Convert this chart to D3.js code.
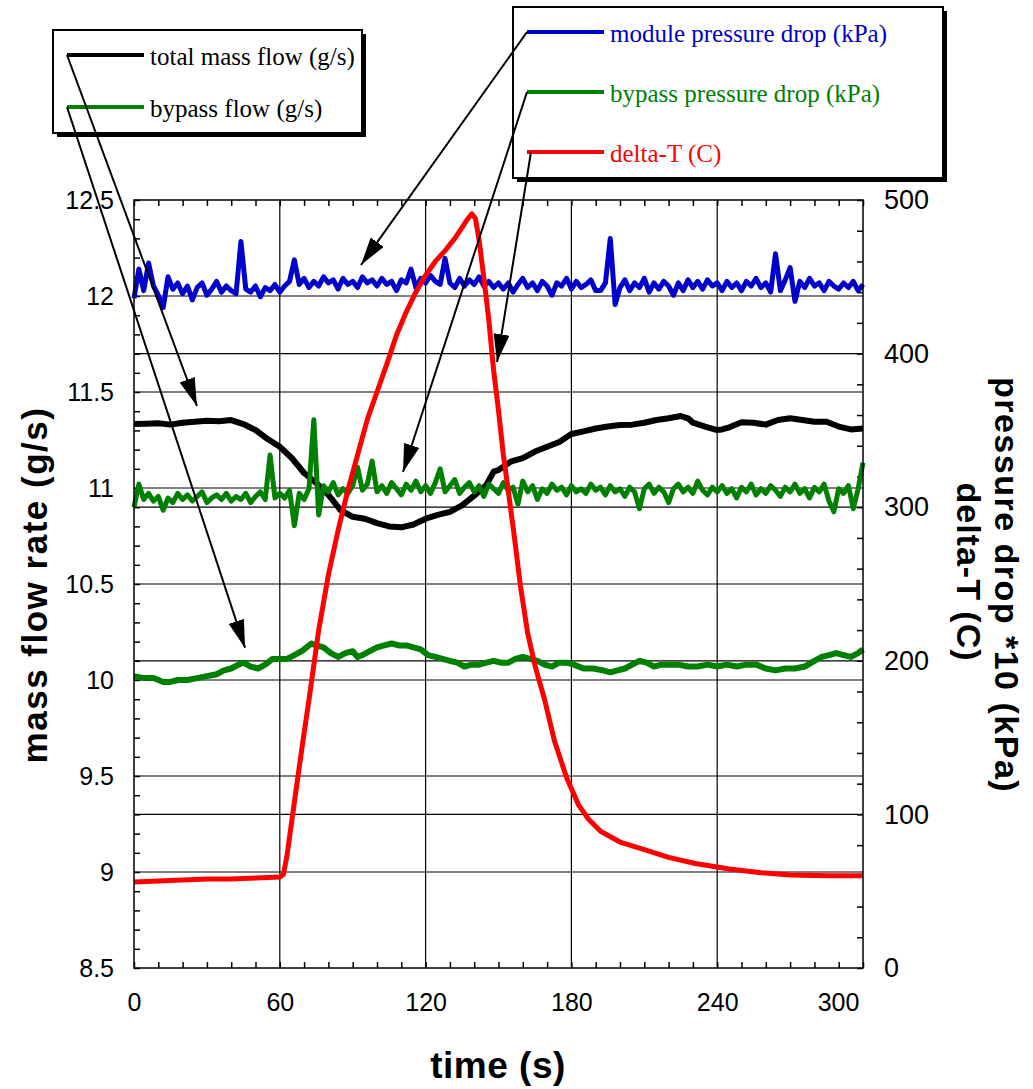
<!DOCTYPE html>
<html>
<head>
<meta charset="utf-8">
<script src="https://cdn.jsdelivr.net/npm/d3@7"></script>
<style>
  body { margin: 0; background: #fff; }
</style>
</head>
<body>
<svg id="chart" width="1033" height="1089"></svg>
<script>
// ---- data ----
// pressure drops are logged every 2 s, from t = 0 to 300 s
const sampleTimes = d3.range(0, 301, 2);

const modulePressure = [
  436, 455, 441, 459, 444, 438, 430, 450, 442, 446, 439, 444, 435, 443, 446, 438, 442, 447, 440, 444,
  441, 439, 473, 442, 440, 444, 437, 443, 441, 445, 440,
  444, 447, 461, 445, 449, 443, 447, 444, 450, 446, 448, 442, 449, 445, 447, 443, 450, 446, 448, 444,
  449, 445, 447, 441, 448, 446, 455, 443, 449, 446, 451, 447, 445, 462, 446, 443, 449, 444, 448, 445,
  450, 444, 447, 443, 446,
  442, 446, 440, 445, 449, 443, 446, 441, 447, 444, 438, 446, 444, 449, 442, 447, 443, 445, 448, 441,
  441, 446, 475, 432, 443, 448, 441, 446, 443, 449, 440, 446, 442, 447, 444, 438, 446, 441, 448, 443,
  447, 442, 448, 444, 446, 441, 447, 443, 446, 441, 447, 444, 449, 443, 446, 440, 465, 441, 448, 456,
  434, 447, 443, 449, 444, 446, 441, 447, 444, 442, 446, 443, 447, 441, 445
];

const bypassPressure = [
  300, 315, 305, 309, 304, 307, 298, 306, 303, 309, 305, 308, 304, 307, 310, 303, 306, 308, 305, 309,
  304, 307, 305, 309, 303, 307, 310, 305, 334, 306, 309,
  306, 311, 288, 309, 305, 312, 357, 295, 314, 310, 316, 308, 312, 309, 314, 326, 311, 315, 330, 310,
  314, 309, 316, 312, 308, 315, 311, 317, 310, 314, 309, 316, 325, 310, 314, 318, 309, 313, 316, 310,
  314, 307, 315, 312, 309,
  316, 311, 313, 302, 317, 310, 314, 305, 312, 309, 315, 311, 313, 308, 314, 310, 312, 309, 315, 311,
  313, 308, 314, 310, 312, 307, 313, 310, 299, 312, 315, 309, 313, 310, 303, 312, 315, 310, 313, 309,
  317, 311, 308, 313, 310, 314, 309, 312, 306, 313, 310, 315, 308, 312, 309, 314, 311, 307, 313, 310,
  315, 309, 312, 306, 313, 310, 315, 304, 297, 312, 309, 314, 299, 312, 329
];

// [time (s), g/s]
const totalFlow = [
  [0, 11.333], [5, 11.335], [10, 11.337], [15, 11.33], [20, 11.34], [25, 11.345], [30, 11.35],
  [35, 11.348], [40, 11.354], [45, 11.333], [50, 11.302], [55, 11.255], [60, 11.215], [65, 11.155],
  [70, 11.078], [75, 11.026], [80, 10.964], [85, 10.885], [90, 10.85], [95, 10.84], [100, 10.817],
  [105, 10.80], [110, 10.795], [115, 10.81], [120, 10.84], [125, 10.86], [130, 10.876], [135, 10.91],
  [140, 10.96], [145, 11.016], [148, 11.085], [150, 11.094], [155, 11.137], [160, 11.156],
  [165, 11.19], [170, 11.215], [175, 11.24], [180, 11.281], [185, 11.295], [190, 11.31], [195, 11.32],
  [200, 11.328], [205, 11.33], [210, 11.34], [215, 11.354], [220, 11.363], [225, 11.375],
  [228, 11.363], [230, 11.34], [235, 11.32], [240, 11.302], [242, 11.305], [245, 11.316],
  [250, 11.342], [255, 11.34], [260, 11.33], [265, 11.354], [270, 11.363], [275, 11.354],
  [280, 11.345], [285, 11.345], [290, 11.32], [295, 11.305], [300, 11.31]
];

const bypassFlow = [
  [0, 10.02], [4, 10.01], [8, 10.01], [12, 9.99], [15, 9.99], [18, 10.0], [22, 10.0], [26, 10.01],
  [30, 10.02], [34, 10.03], [37, 10.05], [40, 10.06], [43, 10.08], [45, 10.09], [48, 10.07],
  [51, 10.06], [54, 10.08], [57, 10.11], [60, 10.11], [63, 10.11], [66, 10.13], [69, 10.15],
  [71, 10.17], [73, 10.19], [75, 10.18], [78, 10.17], [81, 10.14], [84, 10.12], [87, 10.14],
  [90, 10.15], [92, 10.12], [94, 10.13], [97, 10.15], [100, 10.17], [103, 10.18], [106, 10.19],
  [109, 10.18], [112, 10.18], [115, 10.17], [118, 10.16], [121, 10.13], [124, 10.12], [127, 10.11],
  [130, 10.1], [133, 10.09], [136, 10.07], [139, 10.08], [142, 10.08], [145, 10.09], [148, 10.1],
  [151, 10.09], [154, 10.09], [157, 10.11], [160, 10.12], [163, 10.11], [166, 10.1], [169, 10.08],
  [172, 10.07], [175, 10.09], [178, 10.09], [181, 10.08], [185, 10.06], [189, 10.06], [193, 10.05],
  [196, 10.04], [199, 10.05], [202, 10.06], [205, 10.08], [208, 10.1], [211, 10.09], [214, 10.07],
  [217, 10.08], [220, 10.08], [224, 10.08], [228, 10.07], [232, 10.07], [236, 10.08], [240, 10.07],
  [244, 10.08], [248, 10.07], [252, 10.08], [256, 10.08], [260, 10.06], [264, 10.05], [268, 10.06],
  [272, 10.06], [276, 10.07], [280, 10.1], [283, 10.12], [286, 10.13], [289, 10.14], [292, 10.13],
  [295, 10.12], [298, 10.14], [300, 10.16]
];

// [time (s), C]
const deltaT = [
  [0, 56], [10, 56.6], [20, 57.3], [30, 58], [40, 58], [50, 58.6], [60, 59.2], [61.5, 61],
  [63, 73.6], [66, 108], [69, 142], [72, 174.5], [76, 220], [80, 256], [84, 285], [88, 311],
  [92, 334], [96, 357], [100, 375], [104, 393], [108, 412], [112, 427], [116, 440], [120, 451],
  [124, 460], [128, 467], [132, 475], [135, 482], [137, 487], [139, 491], [140.5, 488], [142, 474],
  [144, 449], [146, 422], [148, 389], [150, 363], [152, 334], [154, 311], [156.5, 281], [159, 249],
  [162, 218], [165, 197], [169, 174.5], [173, 148], [178, 124], [183, 106], [187, 97], [192, 89],
  [200, 82], [210, 77], [220, 72], [231, 68], [245, 64.5], [258, 62], [270, 60.5], [286, 60], [300, 60]
];

const xTicks = [0, 60, 120, 180, 240, 300];
const leftTicks = [8.5, 9, 9.5, 10, 10.5, 11, 11.5, 12, 12.5];
const rightTicks = [0, 100, 200, 300, 400, 500];

// ---- layout ----
const plot = { left: 134, top: 200, right: 863, bottom: 968 };
const colors = { black: "#000000", green: "#008000", blue: "#0000cc", red: "#ff0000" };

const svg = d3.select("#chart");

const x = d3.scaleLinear().domain([0, 300]).range([plot.left, plot.right]);
const yL = d3.scaleLinear().domain([8.5, 12.5]).range([plot.bottom, plot.top]);
const yR = d3.scaleLinear().domain([0, 500]).range([plot.bottom, plot.top]);

// grid
const grid = svg.append("g").attr("stroke", "#000").attr("stroke-width", 1.2);
grid.selectAll(".vg").data(xTicks.slice(1, -1)).enter().append("line")
  .attr("x1", d => x(d)).attr("x2", d => x(d))
  .attr("y1", plot.top).attr("y2", plot.bottom);
grid.selectAll(".hl").data(leftTicks.slice(1, -1)).enter().append("line")
  .attr("x1", plot.left).attr("x2", plot.right)
  .attr("y1", d => yL(d)).attr("y2", d => yL(d));
grid.selectAll(".hr").data(rightTicks.slice(1, -1)).enter().append("line")
  .attr("x1", plot.left).attr("x2", plot.right)
  .attr("y1", d => yR(d)).attr("y2", d => yR(d));

// minor ticks pointing inwards
function minor(g) {
  g.select(".domain").remove();
  g.selectAll(".tick line").attr("stroke", "#000").attr("stroke-width", 1.5);
}
svg.append("g").attr("transform", `translate(0,${plot.bottom})`)
  .call(d3.axisBottom(x).tickValues(d3.range(0, 301, 10)).tickSize(-6).tickFormat("")).call(minor);
svg.append("g").attr("transform", `translate(0,${plot.top})`)
  .call(d3.axisTop(x).tickValues(d3.range(0, 301, 10)).tickSize(-6).tickFormat("")).call(minor);
svg.append("g").attr("transform", `translate(${plot.left},0)`)
  .call(d3.axisLeft(yL).tickValues(d3.range(85, 126, 1).map(d => d / 10)).tickSize(-6).tickFormat("")).call(minor);
svg.append("g").attr("transform", `translate(${plot.right},0)`)
  .call(d3.axisRight(yR).tickValues(d3.range(0, 501, 20)).tickSize(-6).tickFormat("")).call(minor);

// tick labels
function labels(size) {
  return g => {
    g.select(".domain").remove();
    g.selectAll(".tick line").remove();
    g.selectAll("text").attr("font-family", "'Liberation Sans', Arial, sans-serif")
      .attr("font-size", size).attr("fill", "#000");
  };
}
const xAxis = svg.append("g").attr("transform", `translate(0,${plot.bottom})`)
  .call(d3.axisBottom(x).tickValues(xTicks).tickSize(0).tickPadding(25).tickFormat(d => d)).call(labels(25));
xAxis.selectAll(".tick text").filter(d => d === 300).attr("dx", -25);
svg.append("g").attr("transform", `translate(${plot.left},0)`)
  .call(d3.axisLeft(yL).tickValues(leftTicks).tickSize(0).tickPadding(20).tickFormat(d => d)).call(labels(25));
svg.append("g").attr("transform", `translate(${plot.right},0)`)
  .call(d3.axisRight(yR).tickValues(rightTicks).tickSize(0).tickPadding(21).tickFormat(d => d)).call(labels(27));

// series
const lineL = d3.line().x(d => x(d[0])).y(d => yL(d[1]));
const lineR = d3.line().x(d => x(d[0])).y(d => yR(d[1]));
const sampled = vals => vals.map((v, i) => [sampleTimes[i], v]);

const series = [
  { data: totalFlow, line: lineL, color: colors.black, width: 6 },
  { data: bypassFlow, line: lineL, color: colors.green, width: 6 },
  { data: sampled(modulePressure), line: lineR, color: colors.blue, width: 5 },
  { data: sampled(bypassPressure), line: lineR, color: colors.green, width: 5 },
  { data: deltaT, line: lineR, color: colors.red, width: 5 }
];
series.forEach(s => {
  svg.append("path")
    .datum(s.data)
    .attr("d", s.line)
    .attr("fill", "none")
    .attr("stroke", s.color)
    .attr("stroke-width", s.width)
    .attr("stroke-linejoin", "round");
});

// plot frame
svg.append("rect")
  .attr("x", plot.left).attr("y", plot.top)
  .attr("width", plot.right - plot.left).attr("height", plot.bottom - plot.top)
  .attr("fill", "none").attr("stroke", "#000").attr("stroke-width", 1.5);

// axis titles
const titleFont = "'Liberation Sans', Arial, sans-serif";
function title(transform, text, size, spacing) {
  svg.append("text")
    .attr("transform", transform)
    .attr("text-anchor", "middle")
    .attr("font-family", titleFont).attr("font-weight", "bold")
    .attr("font-size", size).attr("letter-spacing", spacing)
    .text(text);
}
title("translate(47,585) rotate(-90)", "mass flow rate (g/s)", 35, 1.5);
title("translate(498,1078)", "time (s)", 37, 0.5);
title("translate(995,585) rotate(90)", "pressure drop *10 (kPa)", 34, 1.5);
title("translate(957,572) rotate(90)", "delta-T (C)", 34, 1);

// legends
const legendFont = "'Liberation Serif', 'Times New Roman', serif";
function legendBox(x0, y0, w, h, items) {
  const g = svg.append("g");
  g.append("rect").attr("x", x0 + 4).attr("y", y0 + 4).attr("width", w).attr("height", h).attr("fill", "#000");
  g.append("rect").attr("x", x0).attr("y", y0).attr("width", w).attr("height", h)
    .attr("fill", "#fff").attr("stroke", "#000").attr("stroke-width", 2);
  items.forEach(it => {
    g.append("line")
      .attr("x1", x0 + it.lx).attr("x2", x0 + it.lx + 77)
      .attr("y1", y0 + it.ly).attr("y2", y0 + it.ly)
      .attr("stroke", it.color).attr("stroke-width", 4);
    g.append("text")
      .attr("x", x0 + it.lx + 83).attr("y", y0 + it.ly + 10)
      .attr("font-family", legendFont).attr("font-size", 25)
      .attr("fill", it.textColor || it.color)
      .text(it.label);
  });
}
legendBox(53, 30, 309, 103, [
  { label: "total mass flow (g/s)", color: colors.black, lx: 14, ly: 25 },
  { label: "bypass flow (g/s)", color: colors.green, textColor: "#000", lx: 14, ly: 77 }
]);
legendBox(513, 7, 430, 171, [
  { label: "module pressure drop (kPa)", color: colors.blue, lx: 14, ly: 25 },
  { label: "bypass pressure drop (kPa)", color: colors.green, lx: 14, ly: 85 },
  { label: "delta-T (C)", color: colors.red, lx: 14, ly: 145 }
]);

// leader arrows from legend keys to their curves
svg.append("defs").append("marker")
  .attr("id", "arrow")
  .attr("viewBox", "0 0 28 16")
  .attr("refX", 28).attr("refY", 8)
  .attr("markerWidth", 28).attr("markerHeight", 16)
  .attr("markerUnits", "userSpaceOnUse")
  .attr("orient", "auto")
  .append("path").attr("d", "M0,0 L28,8 L0,16 Z").attr("fill", "#000");

const leaders = [
  { from: [67, 55], t: 25.9, v: 11.427, y: yL },
  { from: [67, 107], t: 45.7, v: 10.167, y: yL },
  { from: [527, 32], t: 93.4, v: 457.7, y: yR },
  { from: [527, 92], t: 110.7, v: 322.9, y: yR },
  { from: [531, 152], t: 149.4, v: 394.5, y: yR }
];
svg.append("g").selectAll("line").data(leaders).enter().append("line")
  .attr("x1", d => d.from[0]).attr("y1", d => d.from[1])
  .attr("x2", d => x(d.t)).attr("y2", d => d.y(d.v))
  .attr("stroke", "#000").attr("stroke-width", 2)
  .attr("marker-end", "url(#arrow)");
</script>
</body>
</html>
